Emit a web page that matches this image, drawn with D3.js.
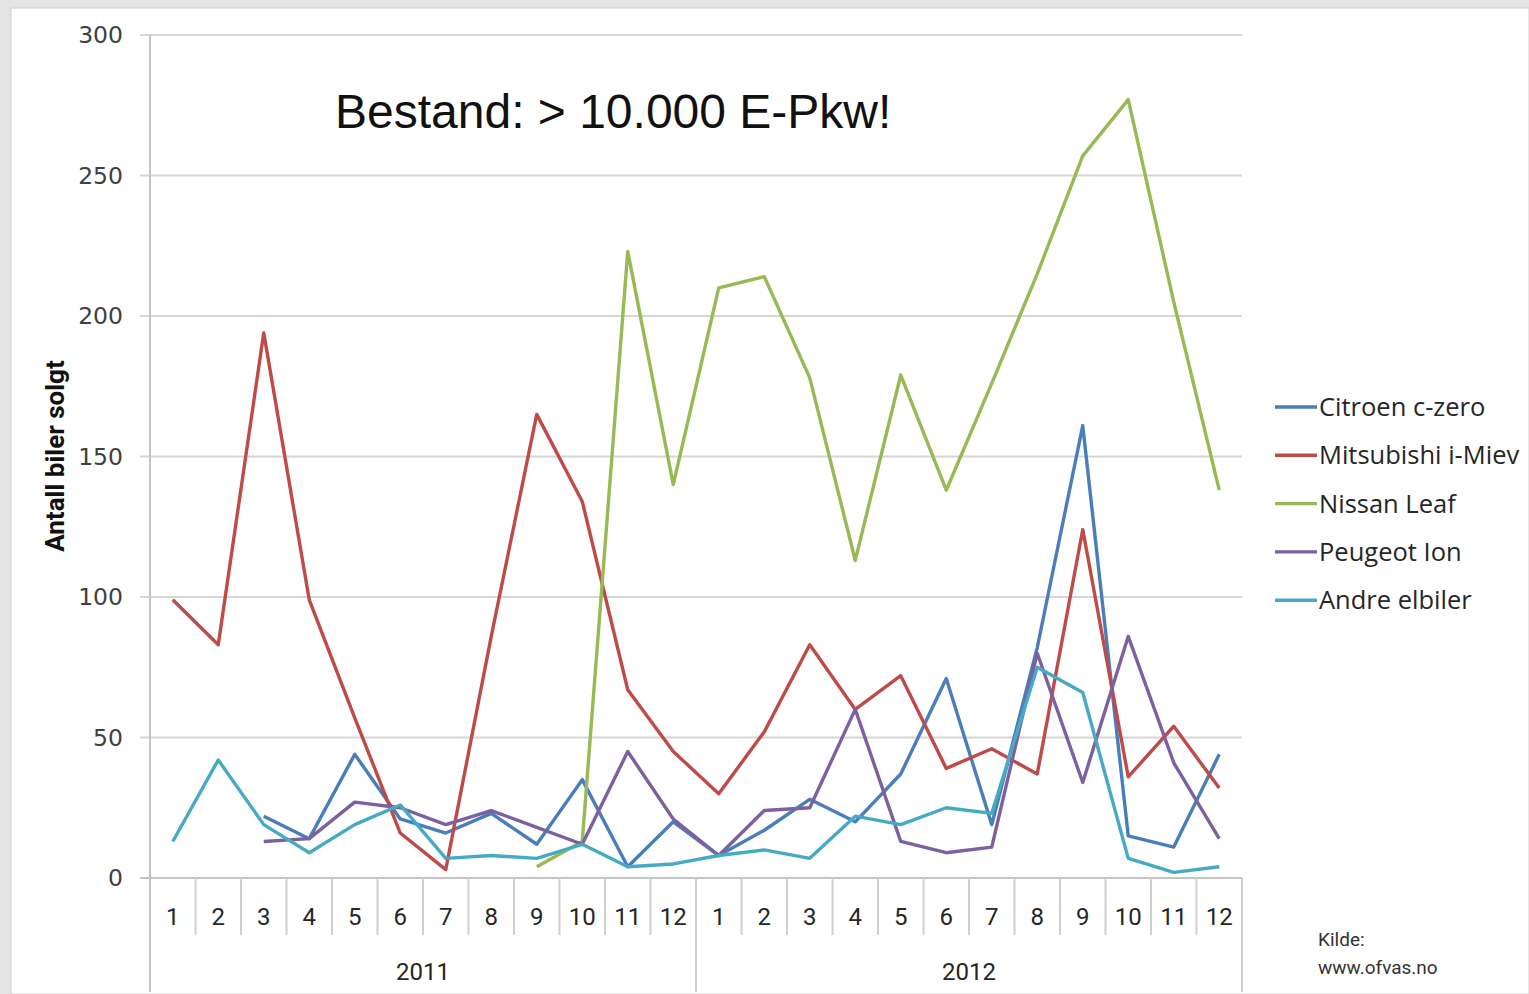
<!DOCTYPE html>
<html>
<head>
<meta charset="utf-8">
<script src="https://cdn.jsdelivr.net/npm/d3@7"></script>
<style>
  body { margin: 0; background: #e4e4e4; }
  svg { display: block; }
</style>
</head>
<body>
<div id="chart"></div>
<script>
// monthly sales of electric cars, Norway 2011-2012
var years = ["2011", "2012"];
var months = ["1","2","3","4","5","6","7","8","9","10","11","12"];
var seriesNames = ["Citroen c-zero", "Mitsubishi i-Miev", "Nissan Leaf", "Peugeot Ion", "Andre elbiler"];
var seriesColors = ["#4a7ebb", "#be4b48", "#98b954", "#7d60a0", "#46aac5"];

var citroen    = [null, null, 22, 14, 44, 21, 16, 23, 12, 35, 4, 20,   8, 17, 28, 20, 37, 71, 19, 82, 161, 15, 11, 44];
var mitsubishi = [99, 83, 194, 99, 57, 16, 3, 86, 165, 134, 67, 45,   30, 52, 83, 60, 72, 39, 46, 37, 124, 36, 54, 32];
var nissan     = [null, null, null, null, null, null, null, null, 4, 13, 223, 140,   210, 214, 178, 113, 179, 138, 176, 215, 257, 277, 205, 138];
var peugeot    = [null, null, 13, 14, 27, 25, 19, 24, 18, 12, 45, 21,   8, 24, 25, 60, 13, 9, 11, 80, 34, 86, 41, 14];
var andre      = [13, 42, 19, 9, 19, 26, 7, 8, 7, 12, 4, 5,   8, 10, 7, 22, 19, 25, 23, 75, 66, 7, 2, 4];

var yTicks = [0, 50, 100, 150, 200, 250, 300];

var allSeries = [citroen, mitsubishi, nissan, peugeot, andre];

var width = 1529, height = 994;
var plotLeft = 150, plotRight = 1242, plotTop = 35, plotBottom = 878;

var svg = d3.select("#chart")
  .append("svg")
    .attr("width", width)
    .attr("height", height);

svg.append("rect")
    .attr("x", 11).attr("y", 8)
    .attr("width", width - 11).attr("height", height - 8)
    .attr("fill", "#ffffff")
    .attr("stroke", "#cfcfcf");

// categories: year + month
var cats = [];
years.forEach(function(yr) {
  months.forEach(function(m) { cats.push(yr + "-" + m); });
});

var x = d3.scaleBand()
    .domain(cats)
    .range([plotLeft, plotRight]);

var y = d3.scaleLinear()
    .domain([0, 300])
    .range([plotBottom, plotTop]);

// gridlines
svg.append("g")
  .selectAll("line")
  .data(yTicks)
  .enter()
  .append("line")
    .attr("x1", plotLeft - 10)
    .attr("x2", plotRight)
    .attr("y1", function(d) { return y(d); })
    .attr("y2", function(d) { return y(d); })
    .attr("stroke", function(d) { return d === 0 ? "#c4c4c4" : "#d6d6d6"; })
    .attr("stroke-width", 2);

// y tick labels
svg.append("g")
  .selectAll("text")
  .data(yTicks)
  .enter()
  .append("text")
    .attr("x", plotLeft - 27)
    .attr("y", function(d) { return y(d) + 8; })
    .attr("text-anchor", "end")
    .style("font-family", "DejaVu Sans, sans-serif")
    .style("font-size", "23.5px")
    .style("fill", "#404040")
    .text(function(d) { return d; });

// y axis line
svg.append("line")
    .attr("x1", plotLeft).attr("x2", plotLeft)
    .attr("y1", plotTop).attr("y2", 992)
    .attr("stroke", "#c4c4c4")
    .attr("stroke-width", 2);

// month separators
svg.append("g")
  .selectAll("line")
  .data(cats.slice(1))
  .enter()
  .append("line")
    .attr("x1", function(d) { return x(d); })
    .attr("x2", function(d) { return x(d); })
    .attr("y1", plotBottom)
    .attr("y2", function(d) { return d.split("-")[1] === "1" ? 992 : 935; })
    .attr("stroke", "#cfcfcf")
    .attr("stroke-width", 2);

svg.append("line")
    .attr("x1", plotRight).attr("x2", plotRight)
    .attr("y1", plotBottom).attr("y2", 992)
    .attr("stroke", "#cfcfcf")
    .attr("stroke-width", 2);

// month labels
svg.append("g")
  .selectAll("text")
  .data(cats)
  .enter()
  .append("text")
    .attr("x", function(d) { return x(d) + x.bandwidth() / 2; })
    .attr("y", 925)
    .attr("text-anchor", "middle")
    .style("font-family", "Liberation Sans Narrow, Roboto, sans-serif")
    .style("font-size", "24px")
    .style("fill", "#262626")
    .text(function(d) { return d.split("-")[1]; });

// year labels
svg.append("g")
  .selectAll("text")
  .data(years)
  .enter()
  .append("text")
    .attr("x", function(yr) { return (x(yr + "-1") + x(yr + "-12") + x.bandwidth()) / 2; })
    .attr("y", 980)
    .attr("text-anchor", "middle")
    .style("font-family", "Liberation Sans Narrow, Roboto, sans-serif")
    .style("font-size", "24px")
    .style("fill", "#262626")
    .text(function(d) { return d; });

// lines
var line = d3.line()
    .defined(function(d) { return d != null; })
    .x(function(d, i) { return x(cats[i]) + x.bandwidth() / 2; })
    .y(function(d) { return y(d); });

svg.append("g")
  .selectAll("path")
  .data(allSeries)
  .enter()
  .append("path")
    .attr("d", function(d) { return line(d); })
    .attr("fill", "none")
    .attr("stroke", function(d, i) { return seriesColors[i]; })
    .attr("stroke-width", 3.4)
    .attr("stroke-linejoin", "round");

// y axis title
svg.append("text")
    .attr("transform", "translate(64,456)rotate(-90)")
    .attr("text-anchor", "middle")
    .style("font-family", "Liberation Sans Narrow, Roboto, sans-serif")
    .style("font-size", "26px")
    .style("font-weight", "bold")
    .style("fill", "#111")
    .text("Antall biler solgt");

// legend
var legend = svg.append("g")
  .selectAll("g")
  .data(seriesNames)
  .enter()
  .append("g")
    .attr("transform", function(d, i) { return "translate(1275," + (407 + i * 48.3) + ")"; });

legend.append("line")
    .attr("x1", 0).attr("x2", 42)
    .attr("stroke", function(d, i) { return seriesColors[i]; })
    .attr("stroke-width", 3.4);

legend.append("text")
    .attr("x", 44)
    .attr("y", 9)
    .style("font-family", "Open Sans, sans-serif")
    .style("font-size", "25.5px")
    .style("fill", "#262626")
    .text(function(d) { return d; });

// annotation
svg.append("text")
    .attr("x", 335)
    .attr("y", 128)
    .style("font-family", "Liberation Sans, Arial, sans-serif")
    .style("font-size", "48px")
    .style("fill", "#111")
    .text("Bestand: > 10.000 E-Pkw!");

// source
svg.append("text")
    .attr("x", 1318)
    .attr("y", 946)
    .style("font-family", "Liberation Sans Narrow, Roboto, sans-serif")
    .style("font-size", "19px")
    .style("fill", "#333")
    .text("Kilde:");

svg.append("text")
    .attr("x", 1318)
    .attr("y", 974)
    .style("font-family", "Liberation Sans Narrow, Roboto, sans-serif")
    .style("font-size", "19px")
    .style("fill", "#333")
    .text("www.ofvas.no");
</script>
</body>
</html>
